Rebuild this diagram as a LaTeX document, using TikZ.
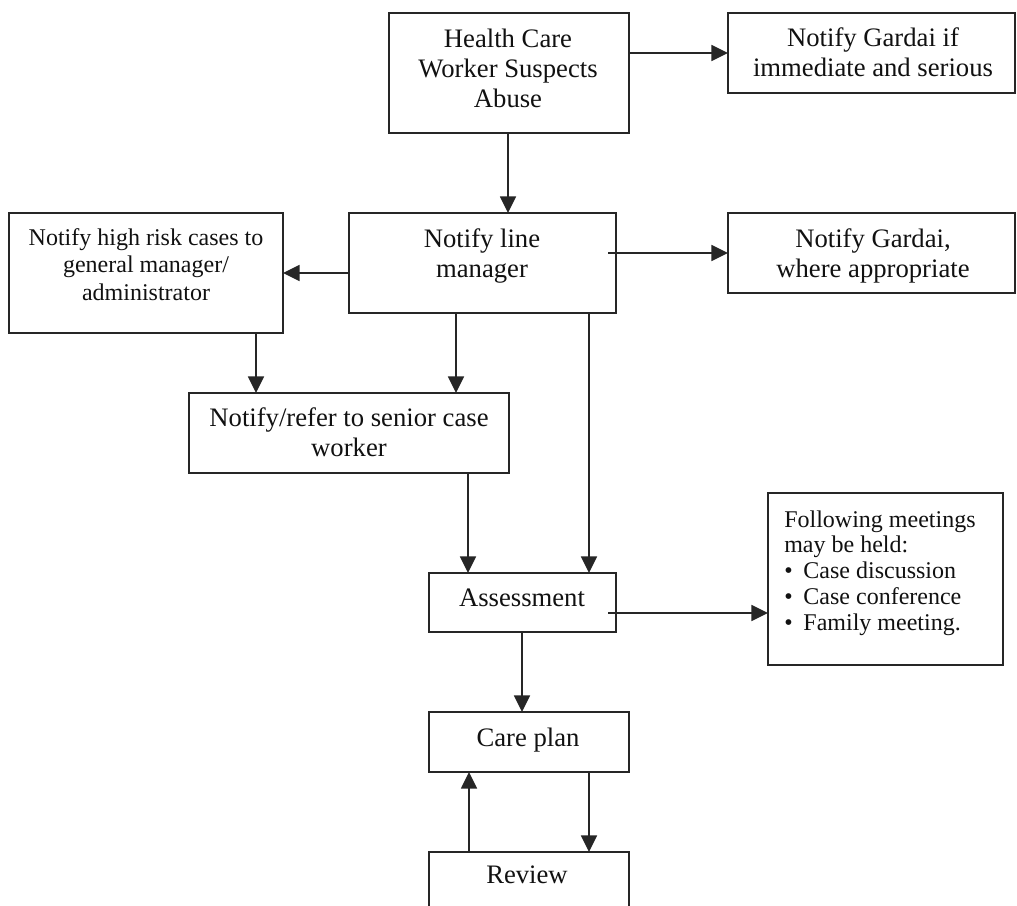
\documentclass[tikz,border=0pt]{standalone}
\usepackage{fontspec}
\setmainfont{Liberation Serif}
\usetikzlibrary{arrows.meta,fit}
\definecolor{linec}{HTML}{262626}
\definecolor{textc}{HTML}{111111}
\begin{document}
\begin{tikzpicture}[x=0.75pt,y=-0.75pt,
  box/.style={draw=linec, line width=1.2pt, inner sep=0pt, outer sep=0pt, rectangle},
  lbl/.style={font=\fontsize{20}{22.5}\selectfont, text=textc, align=center, inner sep=0pt, anchor=base},
  small/.style={font=\fontsize{18}{20.6}\selectfont},
  conn/.style={draw=linec, line width=1.2pt, -{Triangle[length=12.5pt,width=12pt]}},
]
\clip (0,0) rectangle (1017,906);
\fill[white] (0,0) rectangle (1017,906);

% boxes
\node[box, fit={(389,13) (629,133)}] (hcw) {};
\node[box, fit={(728,13) (1015,93)}] (g1) {};
\node[box, fit={(349,213) (616,313)}] (lm) {};
\node[box, fit={(9,213) (283,333)}] (hr) {};
\node[box, fit={(728,213) (1015,293)}] (g2) {};
\node[box, fit={(189,393) (509,473)}] (sr) {};
\node[box, fit={(429,573) (616,632)}] (as) {};
\node[box, fit={(768,493) (1003,665)}] (mt) {};
\node[box, fit={(429,712) (629,772)}] (cp) {};
\node[box, fit={(429,852) (629,940)}] (rv) {};

% texts (multi-line: anchored at the baseline of the last line)
\node[lbl] (thcw) at (508,108) {Health Care\\Worker Suspects\\Abuse};
\node[lbl] (tg1) at (873,77) {Notify Gardai if\\immediate and serious};
\node[lbl] (tg2) at (873,277) {Notify Gardai,\\where appropriate};
\node[lbl] (tlm) at (482,277) {Notify line\\manager};
\node[lbl, small] (thr) at (146,300) {Notify high risk cases to\\general manager/\\administrator};
\node[lbl] (tsr) at (349,456) {Notify/refer to senior case\\worker};
\node[lbl] (tas) at (522,606) {Assessment};
\node[lbl] (tcp) at (528,746) {Care plan};
\node[lbl] (trv) at (527,883) {Review};
\node[lbl, align=left, anchor=base west, font=\fontsize{18}{19.3}\selectfont] (tmt) at (784,630)
  {Following meetings\\may be held:\\\textbullet\hspace{0.45em}Case discussion\\\textbullet\hspace{0.45em}Case conference\\\textbullet\hspace{0.45em}Family meeting.};

% helper coordinates
\coordinate (xa) at (508,0);
\coordinate (xb) at (256,0);
\coordinate (xc) at (456,0);
\coordinate (xd) at (589,0);
\coordinate (xe) at (468,0);
\coordinate (xf) at (522,0);
\coordinate (xg) at (469,0);
\coordinate (pa) at (608,253);
\coordinate (pb) at (608,613);

% connectors
\draw[conn] (hcw.east |- g1.west) -- (g1.west);
\draw[conn] (hcw.south -| xa) -- (lm.north -| xa);
\draw[conn] (pa) -- (g2.west |- pa);
\draw[conn] (lm.west |- hr.east) -- (hr.east);
\draw[conn] (hr.south -| xb) -- (sr.north -| xb);
\draw[conn] (lm.south -| xc) -- (sr.north -| xc);
\draw[conn] (lm.south -| xd) -- (as.north -| xd);
\draw[conn] (sr.south -| xe) -- (as.north -| xe);
\draw[conn] (pb) -- (mt.west |- pb);
\draw[conn] (as.south -| xf) -- (cp.north -| xf);
\draw[conn] (cp.south -| xd) -- (rv.north -| xd);
\draw[conn] (rv.north -| xg) -- (cp.south -| xg);
\end{tikzpicture}
\end{document}
